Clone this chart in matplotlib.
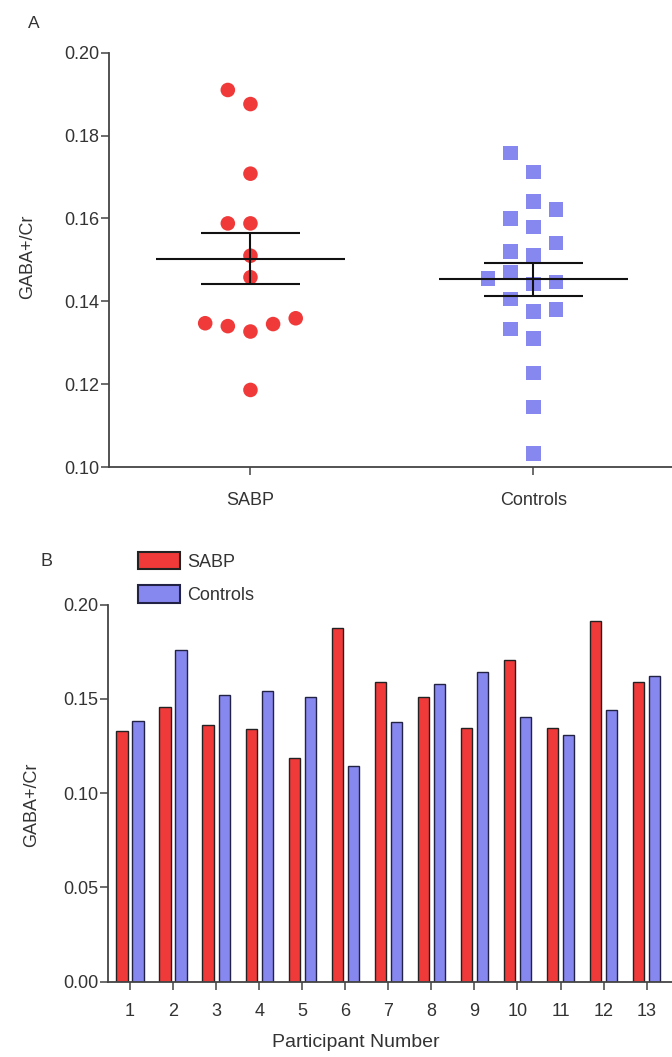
import numpy as np
import matplotlib.pyplot as plt
from matplotlib.patches import Patch

plt.rcParams['font.family'] = ['Liberation Sans', 'DejaVu Sans']

# GABA+/Cr per participant
participants = np.arange(1, 14)
sabp_gaba = [0.1327, 0.1458, 0.1359, 0.1340, 0.1186, 0.1876, 0.1588,
             0.1510, 0.1347, 0.1708, 0.1345, 0.1910, 0.1588]
control_gaba = [0.1380, 0.1758, 0.1520, 0.1541, 0.1512, 0.1145, 0.1375,
                0.1579, 0.1641, 0.1406, 0.1310, 0.1442, 0.1622]
# controls that only appear in the scatter (panel A)
extra_controls = [0.1712, 0.1600, 0.1469, 0.1447, 0.1455, 0.1333, 0.1227, 0.1032]
groups = ['SABP', 'Controls']

red = '#f03a3a'
blue = '#8787f0'
dark = '#333333'


def swarm_offsets(values, gap, step):
    # greedy column layout like GraphPad's scatter: lowest values first
    placed = []
    slots = np.zeros(len(values))
    for i in np.argsort(values, kind='stable'):
        v = values[i]
        for s in [0, -1, 1, -2, 2, -3, 3]:
            if all(abs(v - pv) >= gap for pv, ps in placed if ps == s):
                break
        placed.append((v, s))
        slots[i] = s
    return slots * step


def style_axes(ax):
    for side in ['top', 'right']:
        ax.spines[side].set_visible(False)
    for side in ['left', 'bottom']:
        ax.spines[side].set_color('#444444')
        ax.spines[side].set_linewidth(1.3)
    ax.tick_params(colors='#444444', labelcolor=dark, labelsize=13, width=1.1, length=6)


fig = plt.figure(figsize=(6.72, 10.57), dpi=100)

# ---- panel A: scatter with mean +/- SEM
axA = fig.add_axes([109 / 672, 1 - 467 / 1057, 1 - 109 / 672, (467 - 52.7) / 1057])
style_axes(axA)
sets = [(np.array(sabp_gaba), 'o', red),
        (np.array(control_gaba + extra_controls), 's', blue)]
for k, (vals, marker, color) in enumerate(sets):
    x = k + swarm_offsets(vals, 0.005, 0.08)
    axA.scatter(x, vals, s=110, marker=marker, color=color, edgecolors='none',
                zorder=2, clip_on=False)
    m = vals.mean()
    sem = vals.std(ddof=1) / np.sqrt(len(vals))
    axA.hlines(m, k - 0.335, k + 0.335, color='#111111', lw=1.5, zorder=3)
    axA.hlines([m - sem, m + sem], k - 0.175, k + 0.175, color='#111111', lw=1.5, zorder=3)
    axA.vlines(k, m - sem, m + sem, color='#111111', lw=1.5, zorder=3)

axA.set_xlim(-0.5, 1.49)
axA.set_ylim(0.10, 0.20)
axA.set_xticks([0, 1], groups)
axA.set_yticks(np.arange(0.10, 0.201, 0.02))
axA.set_yticklabels([f'{v:.2f}' for v in np.arange(0.10, 0.201, 0.02)])
axA.tick_params(axis='x', pad=12)
axA.tick_params(axis='y', pad=1)
axA.set_ylabel('GABA+/Cr', fontsize=13, color=dark)
axA.yaxis.label.set_va('center')
axA.yaxis.set_label_coords(-0.144, 0.507)
fig.text(28 / 672, 1 - 23 / 1057, 'A', fontsize=12.5, color=dark, ha='left', va='center')

# ---- panel B: paired bars per participant
axB = fig.add_axes([108 / 672, 1 - 981.7 / 1057, 1 - 108 / 672, (981.7 - 604.5) / 1057])
style_axes(axB)
w = 0.26
off = 0.186
axB.bar(participants - off, sabp_gaba, w, color=red, edgecolor='#222222', lw=1.0)
axB.bar(participants + off, control_gaba, w, color=blue, edgecolor='#222244', lw=1.0)
axB.set_xlim(0.489, 13.59)
axB.set_ylim(0, 0.20)
axB.set_xticks(participants)
axB.set_yticks(np.arange(0, 0.201, 0.05))
axB.set_yticklabels([f'{v:.2f}' for v in np.arange(0, 0.201, 0.05)])
axB.tick_params(axis='x', pad=9)
axB.tick_params(axis='y', pad=1)
axB.set_ylabel('GABA+/Cr', fontsize=13, color=dark)
axB.yaxis.label.set_va('center')
axB.yaxis.set_label_coords(-0.135, 0.468)
axB.set_xlabel('Participant Number', fontsize=14, color=dark)
axB.xaxis.label.set_va('center')
axB.xaxis.set_label_coords(0.44, -0.16)
fig.text(40 / 672, 1 - 561 / 1057, 'B', fontsize=13, color=dark, ha='left', va='center')

handles = [Patch(facecolor=red, edgecolor='#222222', lw=1.5),
           Patch(facecolor=blue, edgecolor='#222244', lw=1.5)]
fig.legend(handles, groups, loc='upper left', bbox_to_anchor=(138 / 672, 1 - 552 / 1057),
           frameon=False, fontsize=13, handlelength=2.3, handleheight=1.1,
           labelspacing=0.8, handletextpad=0.4, borderpad=0, borderaxespad=0,
           labelcolor=dark)

fig.savefig('out.png', dpi=100)
